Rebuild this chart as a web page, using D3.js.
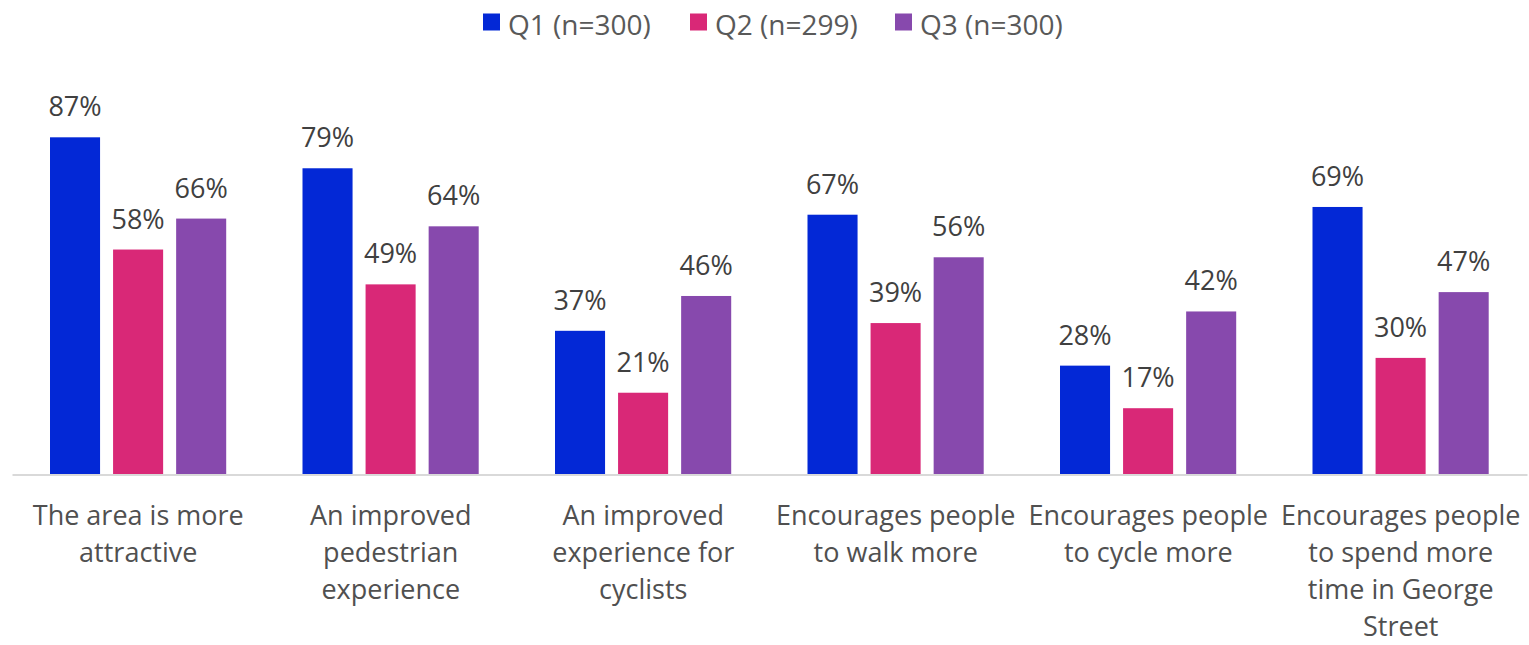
<!DOCTYPE html>
<html>
<head>
<meta charset="utf-8">
<script src="https://cdn.jsdelivr.net/npm/d3@7"></script>
<style>
  html, body { margin: 0; padding: 0; background: #ffffff; }
  svg { display: block; font-family: "Open Sans", sans-serif; }
</style>
</head>
<body>
<svg id="chart" width="1529" height="645"></svg>
<script>
const categories = [
  ["The area is more", "attractive"],
  ["An improved", "pedestrian", "experience"],
  ["An improved", "experience for", "cyclists"],
  ["Encourages people", "to walk more"],
  ["Encourages people", "to cycle more"],
  ["Encourages people", "to spend more", "time in George", "Street"]
];
const seriesNames = ["Q1 (n=300)", "Q2 (n=299)", "Q3 (n=300)"];
const seriesColors = ["#0328d6", "#d92877", "#8749ad"];
const q1Values = [87, 79, 37, 67, 28, 69];
const q2Values = [58, 49, 21, 39, 17, 30];
const q3Values = [66, 64, 46, 56, 42, 47];
const seriesValues = [q1Values, q2Values, q3Values];

const svg = d3.select("#chart");
const baseY = 474.5;

const x0 = d3.scaleBand()
  .domain(d3.range(categories.length))
  .range([12, 1527])
  .paddingInner(0).paddingOuter(0);

const gw = x0.bandwidth();
const x1 = d3.scaleBand()
  .domain(d3.range(seriesNames.length))
  .range([38, gw - 38.3])
  .paddingInner(13 / 63).paddingOuter(0);

const y = d3.scaleLinear().domain([0, 100]).range([474, 87]);

// axis line
const xAxis = d3.axisBottom(x0).tickSize(0).tickFormat("");
const axisG = svg.append("g").attr("transform", `translate(0,${baseY})`).call(xAxis);
axisG.select(".domain").attr("stroke", "#d9d9d9").attr("stroke-width", 2);

// bars
const groups = svg.append("g").selectAll("g")
  .data(categories.map((c, i) => i))
  .join("g")
  .attr("transform", i => `translate(${x0(i)},0)`);

groups.selectAll("rect")
  .data(i => seriesValues.map((vals, s) => ({ s, v: vals[i] })))
  .join("rect")
  .attr("x", d => x1(d.s))
  .attr("width", x1.bandwidth())
  .attr("y", d => y(d.v))
  .attr("height", d => y(0) - y(d.v))
  .attr("fill", d => seriesColors[d.s]);

groups.selectAll("text.val")
  .data(i => seriesValues.map((vals, s) => ({ s, v: vals[i] })))
  .join("text")
  .attr("class", "val")
  .attr("x", d => x1(d.s) + x1.bandwidth() / 2)
  .attr("y", d => y(d.v) - 21)
  .attr("text-anchor", "middle")
  .attr("font-size", 27)
  .attr("fill", "#404040")
  .text(d => d.v + "%");

// category labels
const catG = svg.append("g");
categories.forEach((lines, i) => {
  const t = catG.append("text")
    .attr("x", x0(i) + gw / 2)
    .attr("y", 525)
    .attr("text-anchor", "middle")
    .attr("font-size", 27)
    .attr("fill", "#505050");
  lines.forEach((ln, k) => {
    t.append("tspan")
      .attr("x", x0(i) + gw / 2)
      .attr("y", 525 + k * 37)
      .text(ln);
  });
});

// legend
const legendX = [483, 690, 895];
const leg = svg.append("g");
seriesNames.forEach((name, s) => {
  leg.append("rect")
    .attr("x", legendX[s]).attr("y", 13.5)
    .attr("width", 17).attr("height", 17)
    .attr("fill", seriesColors[s]);
  leg.append("text")
    .attr("x", legendX[s] + 25).attr("y", 35)
    .attr("font-size", 28)
    .attr("fill", "#595959")
    .text(name);
});
</script>
</body>
</html>
